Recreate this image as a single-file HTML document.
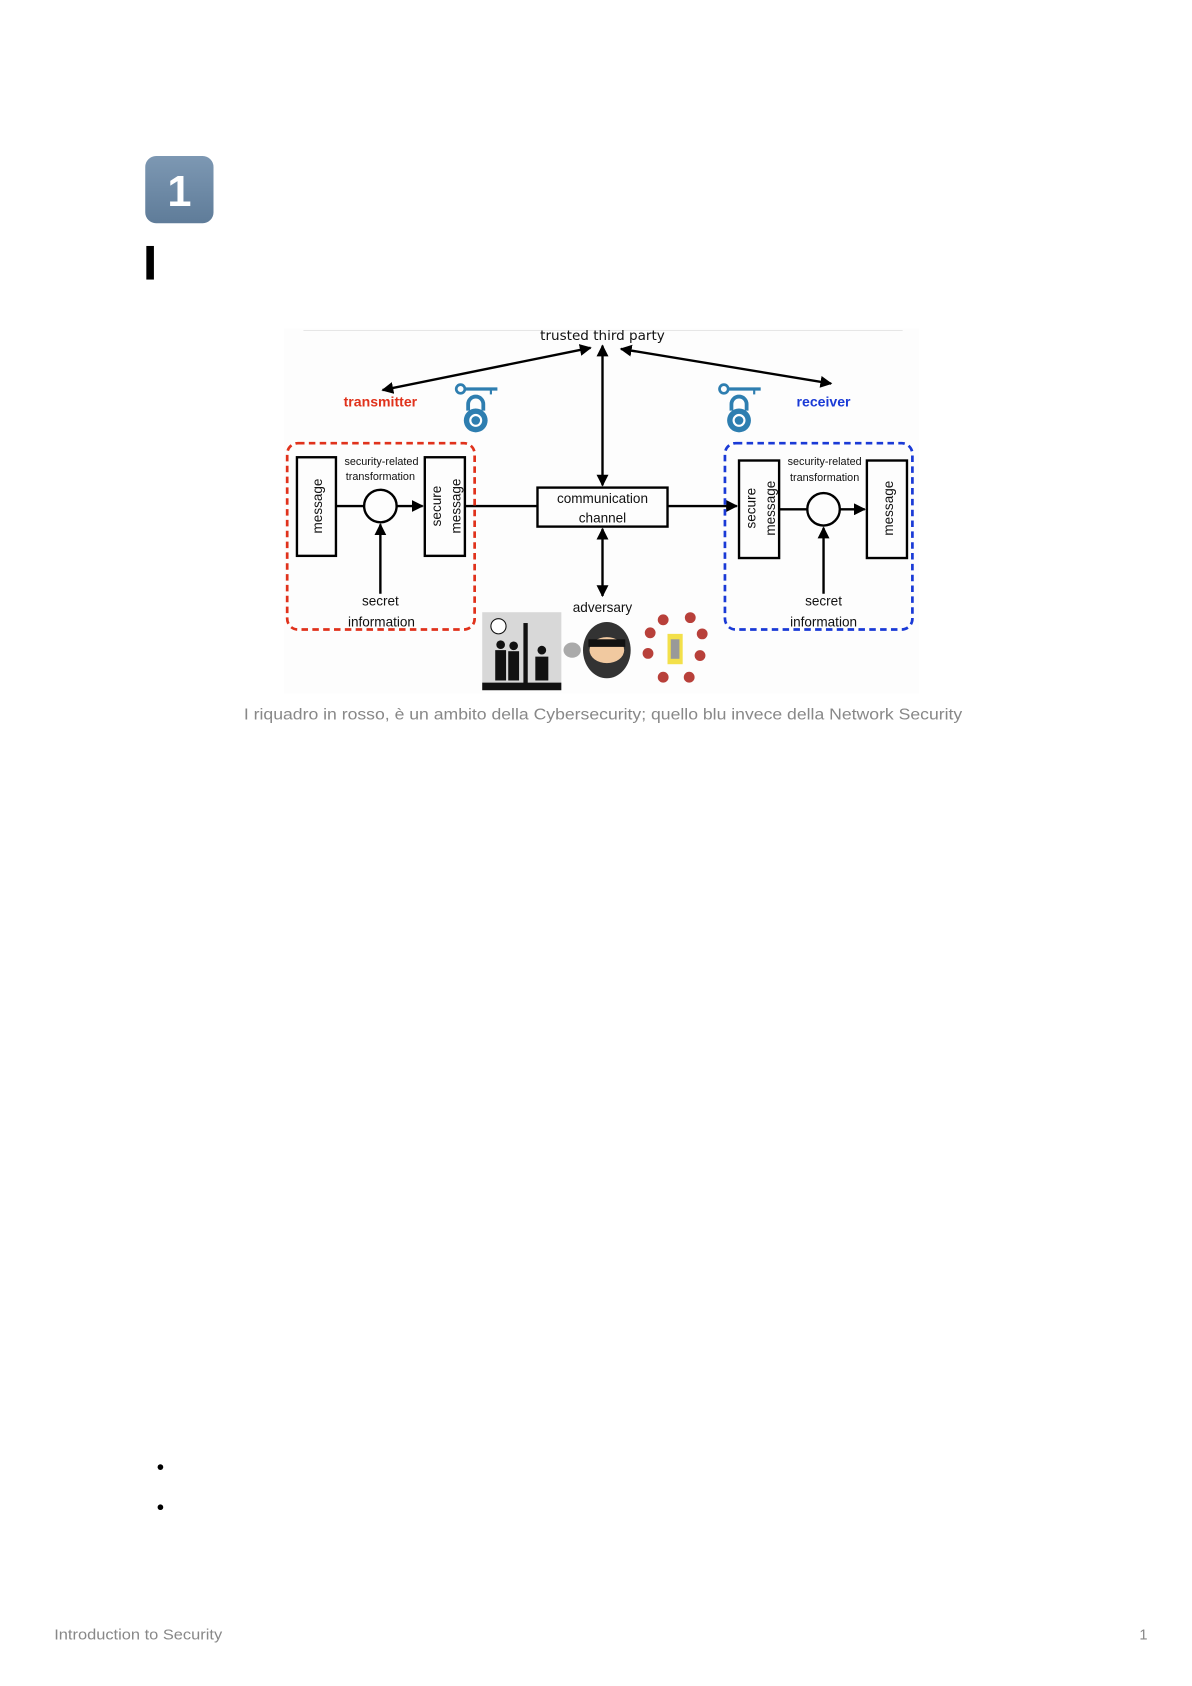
<!DOCTYPE html>
<html><head><meta charset="utf-8"><style>
html,body{margin:0;padding:0;background:#fff;}
svg{display:block;}
text{font-family:"Liberation Sans",sans-serif;}
.d{font-family:"DejaVu Sans","Liberation Sans",sans-serif;fill:#111;}
</style></head><body>
<svg width="1192" height="1686" viewBox="0 0 1100 1556" xmlns="http://www.w3.org/2000/svg">
<defs>
<marker id="a" viewBox="0 0 10 10" refX="9" refY="5" markerWidth="5" markerHeight="5" orient="auto-start-reverse"><path d="M0,0 L10,5 L0,10 z" fill="#000"/></marker>
<linearGradient id="g" x1="0" y1="0" x2="0" y2="1"><stop offset="0" stop-color="#7d98b3"/><stop offset="1" stop-color="#5f7c99"/></linearGradient>
</defs>
<rect width="1100" height="1556" fill="#fff"/>
<rect x="134" y="144" width="63" height="62" rx="10" fill="url(#g)"/>
<text x="165.5" y="190" font-size="40" font-weight="bold" fill="#fff" text-anchor="middle">1</text>
<rect x="135" y="227" width="7" height="31" fill="#000"/>
<rect x="262" y="303" width="586" height="337" fill="#fdfdfd"/>
<line x1="280" y1="305" x2="833" y2="305" stroke="#e6e6e6"/>
<text class="d" x="556" y="314" font-size="12.5" text-anchor="middle">trusted third party</text>
<g stroke="#000" stroke-width="2.2" fill="none">
<line x1="545" y1="321" x2="353" y2="360" marker-start="url(#a)" marker-end="url(#a)"/>
<line x1="556" y1="319" x2="556" y2="448" marker-start="url(#a)" marker-end="url(#a)"/>
<line x1="573" y1="322" x2="767" y2="354" marker-start="url(#a)" marker-end="url(#a)"/>
<line x1="556" y1="488" x2="556" y2="550" marker-start="url(#a)" marker-end="url(#a)"/>
<line x1="310" y1="467" x2="336" y2="467"/>
<line x1="366" y1="467" x2="390" y2="467" marker-end="url(#a)"/>
<line x1="351" y1="548" x2="351" y2="484" marker-end="url(#a)"/>
<line x1="429" y1="467" x2="496" y2="467"/>
<line x1="616" y1="467" x2="680" y2="467" marker-end="url(#a)"/>
<line x1="719" y1="470" x2="745" y2="470"/>
<line x1="775" y1="470" x2="798" y2="470" marker-end="url(#a)"/>
<line x1="760" y1="548" x2="760" y2="487" marker-end="url(#a)"/>
<rect x="274" y="422" width="36" height="91"/>
<rect x="392" y="422" width="37" height="91"/>
<circle cx="351" cy="467" r="15"/>
<rect x="496" y="450" width="120" height="36"/>
<rect x="682" y="425" width="37" height="90"/>
<rect x="800" y="425" width="37" height="90"/>
<circle cx="760" cy="470" r="15"/>
</g>
<rect x="265" y="409" width="173" height="172" rx="10" fill="none" stroke="#e0321c" stroke-width="2.5" stroke-dasharray="6,4"/>
<rect x="669" y="409" width="173" height="172" rx="10" fill="none" stroke="#1a3ad6" stroke-width="2.5" stroke-dasharray="6,4"/>
<text x="351" y="375" font-size="13" font-weight="bold" fill="#e0321c" text-anchor="middle">transmitter</text>
<text x="760" y="375" font-size="13" font-weight="bold" fill="#1a3ad6" text-anchor="middle">receiver</text>
<g fill="#2e7eb0" stroke="#2e7eb0">
<g transform="translate(439,0)"><circle cx="-14" cy="359" r="4" fill="none" stroke-width="2.5"/><line x1="-10" y1="359" x2="20" y2="359" stroke-width="3"/><line x1="14" y1="359" x2="14" y2="364" stroke-width="2"/>
<path d="M-7,379 v-6 a7,7 0 0 1 14,0 v6" fill="none" stroke-width="3.5"/><circle cx="0" cy="388" r="11" stroke="none"/><circle cx="0" cy="388" r="5" fill="none" stroke="#fff" stroke-width="2"/></g>
<g transform="translate(682,0)"><circle cx="-14" cy="359" r="4" fill="none" stroke-width="2.5"/><line x1="-10" y1="359" x2="20" y2="359" stroke-width="3"/><line x1="14" y1="359" x2="14" y2="364" stroke-width="2"/>
<path d="M-7,379 v-6 a7,7 0 0 1 14,0 v6" fill="none" stroke-width="3.5"/><circle cx="0" cy="388" r="11" stroke="none"/><circle cx="0" cy="388" r="5" fill="none" stroke="#fff" stroke-width="2"/></g>
</g>
<g class="d" font-size="10" text-anchor="middle">
<text x="352" y="429">security-related</text><text x="351" y="443">transformation</text>
<text x="761" y="429">security-related</text><text x="761" y="444">transformation</text>
</g>
<g class="d" font-size="12.5" text-anchor="middle">
<text x="351" y="559">secret</text><text x="352" y="578">information</text>
<text x="760" y="559">secret</text><text x="760" y="578">information</text>
<text x="556" y="464">communication</text><text x="556" y="482">channel</text>
<text x="556" y="565">adversary</text>
<text transform="translate(297,467) rotate(-90)">message</text>
<text transform="translate(407,467) rotate(-90)">secure</text>
<text transform="translate(425,467) rotate(-90)">message</text>
<text transform="translate(697,469) rotate(-90)">secure</text>
<text transform="translate(715,469) rotate(-90)">message</text>
<text transform="translate(824,469) rotate(-90)">message</text>
</g>
<rect x="445" y="565" width="73" height="72" fill="#d8d8d8"/>
<rect x="445" y="630" width="73" height="7" fill="#111"/>
<rect x="483" y="575" width="4" height="56" fill="#111"/>
<g fill="#111"><circle cx="462" cy="595" r="4"/><rect x="457" y="600" width="10" height="28"/><circle cx="474" cy="596" r="4"/><rect x="469" y="601" width="10" height="27"/><circle cx="500" cy="600" r="4"/><rect x="494" y="606" width="12" height="22"/></g>
<circle cx="460" cy="578" r="7" fill="#fff" stroke="#111"/>
<ellipse cx="560" cy="600" rx="22" ry="26" fill="#333"/><ellipse cx="560" cy="600" rx="16" ry="12" fill="#f1c9a0"/><rect x="543" y="590" width="34" height="7" fill="#111"/>
<ellipse cx="528" cy="600" rx="8" ry="7" fill="#aaa"/>
<g fill="#b8403a"><circle cx="612" cy="572" r="5"/><circle cx="637" cy="570" r="5"/><circle cx="600" cy="584" r="5"/><circle cx="648" cy="585" r="5"/><circle cx="598" cy="603" r="5"/><circle cx="646" cy="605" r="5"/><circle cx="612" cy="625" r="5"/><circle cx="636" cy="625" r="5"/></g>
<rect x="616" y="585" width="14" height="28" fill="#f3e04a"/><rect x="619" y="590" width="8" height="18" fill="#999"/>
<text x="225" y="664" font-size="14.5" fill="#888" textLength="663" lengthAdjust="spacingAndGlyphs">I riquadro in rosso, è un ambito della Cybersecurity; quello blu invece della Network Security</text>
<circle cx="148" cy="1354" r="2.6" fill="#000"/>
<circle cx="148" cy="1391" r="2.6" fill="#000"/>
<text x="50" y="1513" font-size="13.5" fill="#888" textLength="155" lengthAdjust="spacingAndGlyphs">Introduction to Security</text>
<text x="1059" y="1513" font-size="13.5" fill="#888" text-anchor="end">1</text>
</svg>
</body></html>
